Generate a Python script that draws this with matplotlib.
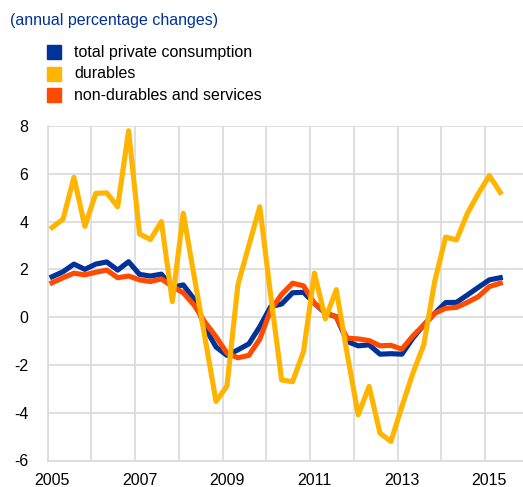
import numpy as np
import matplotlib
matplotlib.use("Agg")
import matplotlib.pyplot as plt
from matplotlib.patches import Rectangle

plt.rcParams['font.family'] = ['Liberation Sans', 'DejaVu Sans']

# quarterly data, 2005Q1 - 2015Q2
start_year = 2005
total = [1.69, 1.9, 2.22, 2.0, 2.22, 2.31, 1.97, 2.32, 1.79, 1.72, 1.8, 1.25,
         1.35, 0.75, -0.45, -1.25, -1.6, -1.37, -1.12, -0.4, 0.44, 0.55, 1.02, 1.04,
         0.58, 0.16, 0.02, -1.02, -1.2, -1.16, -1.55, -1.53, -1.55, -0.88, -0.33, 0.16,
         0.61, 0.62, 0.93, 1.25, 1.56, 1.65]
durables = [3.75, 4.1, 5.85, 3.8, 5.18, 5.2, 4.62, 7.8, 3.48, 3.25, 4.0, 0.65,
            4.35, 1.7, -0.9, -3.53, -2.88, 1.35, 3.0, 4.62, 0.9, -2.63, -2.7, -1.44,
            1.84, -0.07, 1.15, -1.55, -4.09, -2.9, -4.86, -5.2, -3.74, -2.35, -1.16, 1.49,
            3.35, 3.23, 4.35, 5.18, 5.92, 5.22]
nondurables = [1.44, 1.65, 1.84, 1.77, 1.88, 1.97, 1.65, 1.72, 1.56, 1.49, 1.6, 1.28,
               1.02, 0.5, -0.22, -0.82, -1.51, -1.7, -1.6, -0.92, 0.3, 0.95, 1.42, 1.31,
               0.58, 0.2, 0.0, -0.88, -0.91, -0.98, -1.2, -1.18, -1.34, -0.79, -0.33, 0.16,
               0.37, 0.41, 0.62, 0.86, 1.28, 1.42]
labels = ["total private consumption", "durables", "non-durables and services"]
colors = ["#003299", "#FFB400", "#FF4B00"]
year_labels = ["2005", "2007", "2009", "2011", "2013", "2015"]
y_ticks = [8, 6, 4, 2, 0, -2, -4, -6]

W, H = 523, 487
fig = plt.figure(figsize=(W / 100, H / 100), dpi=100)
ax = fig.add_axes([47.7 / W, 26.5 / H, 481 / W, 334.5 / H])

t = start_year + 0.1 + np.arange(len(total)) / 4
ax.plot(t, total, color=colors[0], lw=3.7, zorder=3, solid_joinstyle='round')
ax.plot(t, nondurables, color=colors[2], lw=3.7, zorder=4, solid_joinstyle='round')
ax.plot(t, durables, color=colors[1], lw=3.7, zorder=5, solid_joinstyle='round')

ax.set_xlim(2005, 2016)
ax.set_ylim(-6, 8)
ax.set_yticks(y_ticks)
ax.set_yticklabels([str(v) for v in y_ticks])
ax.set_xticks(range(2005, 2016), minor=True)
ax.set_xticks([int(y) + 0.1 for y in year_labels])
ax.set_xticklabels(year_labels)
ax.grid(True, which='minor', axis='x', color='#dcdcdc', lw=1.3)
ax.grid(True, which='major', axis='y', color='#dcdcdc', lw=1.3)
ax.set_axisbelow(True)
for s in ['top', 'right']:
    ax.spines[s].set_visible(False)
for s in ['left', 'bottom']:
    ax.spines[s].set_color('#dcdcdc')
    ax.spines[s].set_linewidth(1.3)
ax.tick_params(which='both', length=0)
ax.tick_params(axis='y', pad=14, labelsize=11.5)
ax.tick_params(axis='x', pad=9, labelsize=11.5)

# title and legend
fig.text(10 / W, 1 - 20 / H, "(annual percentage changes)", color="#003299",
         fontsize=11.5, va='center', ha='left')
for k, lab in enumerate(labels):
    yc = 52 + 21.5 * k
    fig.patches.append(Rectangle((47 / W, 1 - (yc + 7) / H), 14 / W, 14 / H,
                                 transform=fig.transFigure, color=colors[k]))
    fig.text(74 / W, 1 - yc / H, lab, fontsize=11.5, va='center', ha='left')

fig.savefig("out.png", dpi=100)
